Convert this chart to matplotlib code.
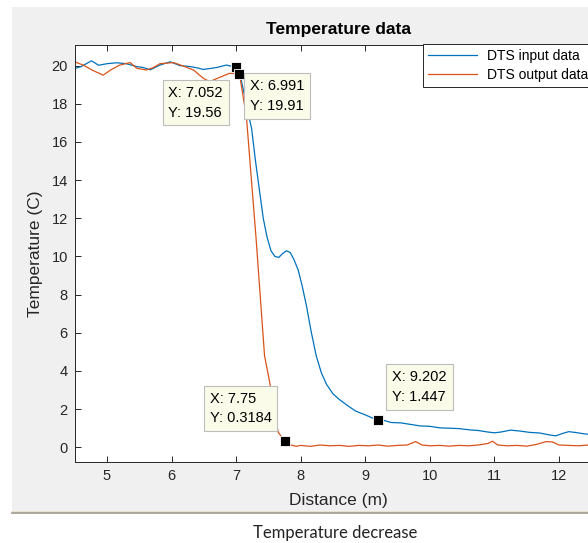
import matplotlib.pyplot as plt
from matplotlib.patches import Rectangle
from matplotlib.lines import Line2D

# DTS input data (blue)
input_x = [4.50, 4.60, 4.76, 4.87, 5.00, 5.15, 5.30, 5.46, 5.56, 5.67, 5.82, 5.98,
           6.13, 6.29, 6.40, 6.49, 6.60, 6.70, 6.85, 6.991, 7.05, 7.12, 7.18, 7.24,
           7.30, 7.36, 7.42, 7.48, 7.54, 7.60, 7.66, 7.72, 7.78, 7.84, 7.90, 7.96,
           8.02, 8.09, 8.16, 8.24, 8.32, 8.40, 8.50, 8.60, 8.72, 8.85, 9.00, 9.10,
           9.202, 9.30, 9.40, 9.55, 9.70, 9.85, 10.00, 10.15, 10.30, 10.45, 10.60,
           10.75, 10.90, 11.00, 11.10, 11.25, 11.40, 11.55, 11.70, 11.85, 11.95,
           12.05, 12.15, 12.25, 12.40, 12.55, 12.70]
input_y = [19.85, 19.95, 20.25, 20.02, 20.10, 20.15, 20.10, 19.95, 19.90, 19.78, 20.03, 20.20,
           20.00, 19.95, 19.88, 19.80, 19.85, 19.90, 20.03, 19.91, 19.70, 18.60, 17.60, 16.70,
           15.00, 13.50, 12.00, 11.00, 10.30, 10.00, 9.95, 10.15, 10.30, 10.20, 9.80, 9.30,
           8.50, 7.40, 6.10, 4.80, 3.90, 3.30, 2.80, 2.50, 2.20, 1.90, 1.70, 1.55,
           1.447, 1.40, 1.30, 1.28, 1.20, 1.12, 1.10, 1.02, 1.00, 0.98, 0.92,
           0.88, 0.80, 0.76, 0.80, 0.90, 0.85, 0.78, 0.75, 0.65, 0.60,
           0.72, 0.82, 0.78, 0.70, 0.66, 0.70]

# DTS output data (orange)
output_x = [4.50, 4.63, 4.78, 4.94, 5.07, 5.20, 5.36, 5.46, 5.61, 5.72, 5.82, 6.03,
            6.18, 6.34, 6.49, 6.59, 6.75, 6.90, 7.052, 7.16, 7.31, 7.44, 7.52, 7.65,
            7.75, 7.85, 7.93, 8.00, 8.15, 8.30, 8.45, 8.60, 8.75, 8.90, 9.05, 9.20,
            9.35, 9.50, 9.65, 9.78, 9.88, 10.00, 10.15, 10.30, 10.45, 10.60, 10.75,
            10.90, 10.97, 11.05, 11.20, 11.35, 11.50, 11.65, 11.80, 11.90, 12.00,
            12.15, 12.30, 12.45, 12.60, 12.70]
output_y = [20.20, 20.03, 19.75, 19.50, 19.80, 20.03, 20.16, 19.86, 19.77, 19.90, 20.10, 20.16,
            19.98, 19.77, 19.34, 19.16, 19.39, 19.60, 19.56, 17.30, 10.90, 4.80, 3.40, 0.80,
            0.3184, 0.12, 0.05, 0.10, 0.05, 0.12, 0.08, 0.10, 0.05, 0.10, 0.08, 0.12,
            0.06, 0.10, 0.12, 0.30, 0.12, 0.08, 0.10, 0.06, 0.10, 0.08, 0.12,
            0.20, 0.32, 0.12, 0.08, 0.10, 0.06, 0.15, 0.30, 0.28, 0.12,
            0.10, 0.08, 0.12, 0.10, 0.12]

# data tips
tip_x = [6.991, 7.052, 7.75, 9.202]
tip_y = [19.91, 19.56, 0.3184, 1.447]

x_ticks = [5, 6, 7, 8, 9, 10, 11, 12]
y_ticks = [0, 2, 4, 6, 8, 10, 12, 14, 16, 18, 20]

W, H = 588, 543
fig = plt.figure(figsize=(W / 100, H / 100), dpi=100)
fig.patch.set_facecolor('white')

# grey matlab figure background and the border line under it
fig.patches.append(Rectangle((12 / W, 1 - 511 / H), 1 - 12 / W, (511 - 7) / H,
                             transform=fig.transFigure, facecolor='#f0f0f0',
                             edgecolor='none', zorder=-10))
fig.add_artist(Line2D([12 / W, 1], [1 - 511.5 / H] * 2, transform=fig.transFigure,
                      color='#e8d9c4', lw=1.2, zorder=-5))
fig.add_artist(Line2D([12 / W, 1], [1 - 513 / H] * 2, transform=fig.transFigure,
                      color='#a09a92', lw=1.2, zorder=-5))

ax_left, ax_right, ax_top, ax_bottom = 74.7, 602, 45, 462
ax = fig.add_axes([ax_left / W, 1 - ax_bottom / H, (ax_right - ax_left) / W,
                   (ax_bottom - ax_top) / H])
ax.set_facecolor('white')

blue = '#0072BD'
orange = '#D95319'
ax.plot(input_x, input_y, color=blue, lw=0.9, label='DTS input data')
ax.plot(output_x, output_y, color=orange, lw=0.9, label='DTS output data')

ax.set_xlim(4.5, 4.5 + (ax_right - ax_left) / 64.57)
ax.set_ylim(-0.77, 21.08)
ax.set_xticks(x_ticks)
ax.set_yticks(y_ticks)

for s in ax.spines.values():
    s.set_color('#262626')
    s.set_linewidth(0.7)
ax.tick_params(direction='in', top=True, right=True, length=4, width=0.7,
               color='#262626', labelcolor='#262626', labelsize=10.5, pad=5)
for lab in ax.get_xticklabels() + ax.get_yticklabels():
    lab.set_family('Liberation Sans')

ax.set_xlabel('Distance (m)', fontsize=12.5, family='Liberation Sans',
              color='#262626', labelpad=7)
ax.set_ylabel('Temperature (C)', fontsize=12.5, family='Liberation Sans',
              color='#262626', labelpad=6)
ax.set_title('Temperature data', fontsize=12.5, fontweight='bold',
             family='Liberation Sans', color='black', pad=8)

leg = ax.legend(loc='upper left', bbox_to_anchor=(423 / W, 1 - 44 / H),
                bbox_transform=fig.transFigure, borderaxespad=0,
                prop={'family': 'Liberation Sans', 'size': 10},
                handlelength=3.5, handletextpad=0.75, borderpad=0.38,
                labelspacing=0.32, fancybox=False, framealpha=1)
leg.get_frame().set_edgecolor('#262626')
leg.get_frame().set_linewidth(0.7)

# data tip markers and boxes
ax.plot(tip_x, tip_y, ls='none', marker='s', ms=7, mfc='black', mec='white',
        mew=0.6, zorder=5)
offsets = [(14, -12, 'left', 'top'), (-71, -12, 'left', 'top'),
           (-13, 16, 'right', 'bottom'), (14, 16, 'left', 'bottom')]
for x, y, (dx, dy, ha, va) in zip(tip_x, tip_y, offsets):
    ax.annotate(f'X: {x}\nY: {y}', xy=(x, y), xytext=(dx, dy),
                textcoords='offset pixels', ha=ha, va=va, multialignment='left',
                fontsize=10.5, family='Liberation Sans', linespacing=1.5,
                bbox=dict(boxstyle='square,pad=0.4', fc='#fbfbea', ec='#bdbdbd',
                          lw=0.8), zorder=6)

fig.text(335 / W, 1 - 533 / H, 'Temperature decrease', ha='center', va='center',
         fontsize=12, family='Lato', color='#222222')

fig.savefig('out.png', dpi=100)
